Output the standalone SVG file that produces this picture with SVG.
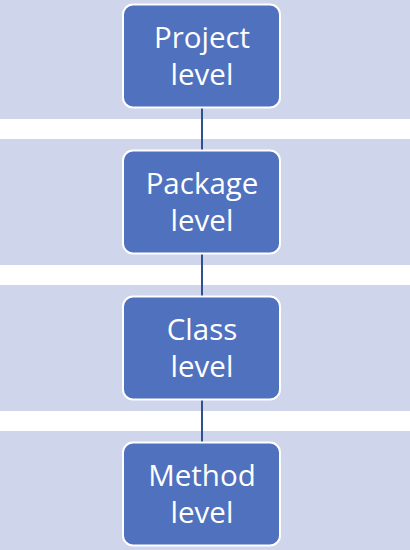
<svg xmlns="http://www.w3.org/2000/svg" width="410" height="550" viewBox="0 0 410 550">
<style>
.band{fill:#CFD5EA}
.node rect{fill:#4F71BE;stroke:#FFFFFF;stroke-width:2}
.node text{fill:#FFFFFF;font-family:"Open Sans","Noto Sans",sans-serif;font-size:29.5px;text-anchor:middle}
.conn line{stroke:#2F528F;stroke-width:2}
</style>
<rect width="410" height="550" fill="#FFFFFF"/>
<g id="bands">
<rect class="band" x="0" y="0" width="410" height="119"/>
<rect class="band" x="0" y="139" width="410" height="126"/>
<rect class="band" x="0" y="285" width="410" height="126"/>
<rect class="band" x="0" y="431" width="410" height="119"/>
</g>
<g id="connectors" class="conn">
<line x1="202" y1="108" x2="202" y2="150"/>
<line x1="202" y1="254" x2="202" y2="296"/>
<line x1="202" y1="400" x2="202" y2="442"/>
</g>
<g id="project" class="node">
<rect x="123" y="4.5" width="157" height="103" rx="10"/>
<text x="202" y="48">Project</text>
<text x="202" y="85">level</text>
</g>
<g id="package" class="node">
<rect x="123" y="150.5" width="157" height="103" rx="10"/>
<text x="202" y="194">Package</text>
<text x="202" y="231">level</text>
</g>
<g id="class" class="node">
<rect x="123" y="296.5" width="157" height="103" rx="10"/>
<text x="202" y="340">Class</text>
<text x="202" y="377">level</text>
</g>
<g id="method" class="node">
<rect x="123" y="442.5" width="157" height="103" rx="10"/>
<text x="202" y="486">Method</text>
<text x="202" y="523">level</text>
</g>
</svg>
